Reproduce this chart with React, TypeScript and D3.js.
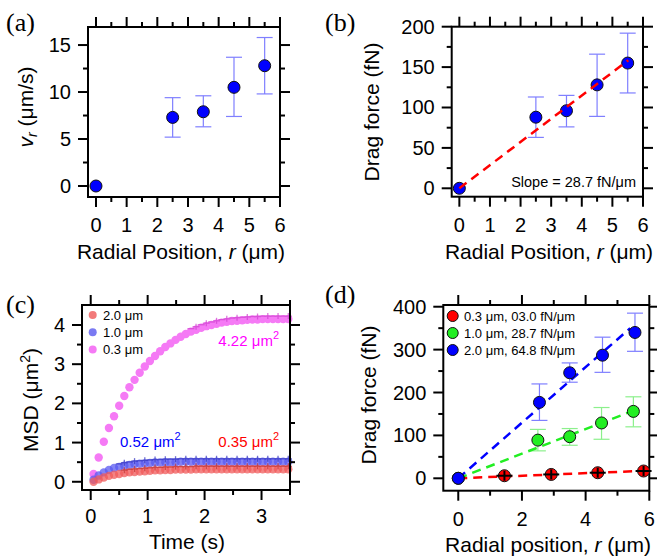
import React from 'react';
import * as d3 from 'd3';

// (a) radial velocity vs radial position
const radialPos = [0, 2.5, 3.5, 4.5, 5.5];
const vrMean = [0, 7.3, 7.9, 10.5, 12.8];
const vrLow = [0, 5.2, 6.3, 7.4, 9.8];
const vrHigh = [0, 9.4, 9.6, 13.7, 15.8];

// (b) drag force, 1.0 um particle
const dragMean = [0, 88, 96, 128, 155];
const dragLow = [0, 63, 76, 89, 118];
const dragHigh = [0, 113, 115, 166, 192];
const slopeB = 28.7;

// (c) MSD vs time
const msdTime = [0.05, 0.14, 0.23, 0.32, 0.41, 0.5, 0.59, 0.68, 0.77, 0.86, 0.95, 1.04, 1.13, 1.22, 1.31, 1.4,
  1.49, 1.58, 1.67, 1.76, 1.85, 1.94, 2.03, 2.12, 2.21, 2.3, 2.39, 2.48, 2.57, 2.66, 2.75, 2.84, 2.93, 3.02,
  3.11, 3.2, 3.29, 3.38, 3.47];
const msdPink = [0.2, 0.62, 1.02, 1.37, 1.67, 1.94, 2.19, 2.41, 2.6, 2.78, 2.94, 3.08, 3.21, 3.33, 3.44, 3.53,
  3.62, 3.7, 3.77, 3.83, 3.88, 3.93, 3.97, 4.0, 4.03, 4.06, 4.08, 4.1, 4.11, 4.12, 4.13, 4.14, 4.14, 4.15,
  4.15, 4.15, 4.15, 4.15, 4.15];
const msdBlue = [0.05, 0.16, 0.24, 0.3, 0.35, 0.38, 0.41, 0.43, 0.45, 0.46, 0.47, 0.48, 0.49, 0.49, 0.5, 0.5,
  0.5, 0.51, 0.51, 0.51, 0.51, 0.51, 0.51, 0.51, 0.51, 0.51, 0.51, 0.51, 0.51, 0.51, 0.51, 0.51, 0.51, 0.51,
  0.51, 0.51, 0.51, 0.51, 0.51];
const msdRed = [0.0, 0.06, 0.11, 0.15, 0.18, 0.2, 0.22, 0.24, 0.25, 0.26, 0.27, 0.28, 0.29, 0.29, 0.3, 0.3,
  0.31, 0.31, 0.31, 0.31, 0.32, 0.32, 0.32, 0.32, 0.32, 0.32, 0.32, 0.32, 0.32, 0.32, 0.32, 0.32, 0.32, 0.32,
  0.32, 0.32, 0.32, 0.32, 0.32];
const msdErrFrom = { pink: 1.7, blue: 0.45, red: 0.55 };

// (d) drag force for three particle sizes
const smallPos = [0, 1.45, 2.92, 4.38, 5.82];
const smallForce = [0, 6, 9, 13, 17];
const greenForce = [0, 89, 97, 129, 156];
const greenLow = [0, 64, 77, 91, 120];
const greenHigh = [0, 114, 116, 165, 190];
const bluePos = [0, 2.55, 3.5, 4.53, 5.55];
const blueForce = [0, 177, 246, 287, 340];
const blueLow = [0, 135, 224, 247, 296];
const blueHigh = [0, 220, 269, 329, 385];
const slopesD = [3.0, 28.7, 64.8];
const legendD = ['0.3 \u03bcm, 03.0 fN/\u03bcm', '1.0 \u03bcm, 28.7 fN/\u03bcm', '2.0 \u03bcm, 64.8 fN/\u03bcm'];

const FONT = "'Liberation Sans', Arial, sans-serif";
const SERIF = "'Liberation Serif', 'DejaVu Serif', serif";
const TICK_FS = 20;
const LABEL_FS = 21;

function Frame({ sx, sy, xMajor, xMinor, yMajor, yMinor, xOff = 35 }: any) {
  const [x0, x1] = sx.range();
  const [y1, y0] = sy.range();
  const M = 10, m = 5;
  return (
    <g stroke="#000" strokeWidth={2}>
      <rect x={x0} y={y0} width={x1 - x0} height={y1 - y0} fill="none" />
      {xMajor.map((v: number) => (
        <g key={'xM' + v}>
          <line x1={sx(v)} x2={sx(v)} y1={y1} y2={y1 + M} />
          <line x1={sx(v)} x2={sx(v)} y1={y0} y2={y0 - M} />
          <text x={sx(v)} y={y1 + xOff} textAnchor="middle" stroke="none" fill="#000" fontSize={TICK_FS} fontFamily={FONT}>{v}</text>
        </g>
      ))}
      {xMinor.map((v: number) => (
        <g key={'xm' + v}>
          <line x1={sx(v)} x2={sx(v)} y1={y1} y2={y1 + m} />
          <line x1={sx(v)} x2={sx(v)} y1={y0} y2={y0 - m} />
        </g>
      ))}
      {yMajor.map((v: number) => (
        <g key={'yM' + v}>
          <line x1={x0} x2={x0 - M} y1={sy(v)} y2={sy(v)} />
          <line x1={x1} x2={x1 + M} y1={sy(v)} y2={sy(v)} />
          <text x={x0 - 17} y={sy(v)} dy="0.35em" textAnchor="end" stroke="none" fill="#000" fontSize={TICK_FS} fontFamily={FONT}>{v}</text>
        </g>
      ))}
      {yMinor.map((v: number) => (
        <g key={'ym' + v}>
          <line x1={x0} x2={x0 - m} y1={sy(v)} y2={sy(v)} />
          <line x1={x1} x2={x1 + m} y1={sy(v)} y2={sy(v)} />
        </g>
      ))}
    </g>
  );
}

function ErrBars({ sx, sy, xs, lo, hi, color }: any) {
  return (
    <g stroke={color} strokeWidth={1.2}>
      {xs.map((x: number, i: number) => lo[i] === hi[i] ? null : (
        <g key={i}>
          <line x1={sx(x)} x2={sx(x)} y1={sy(lo[i])} y2={sy(hi[i])} />
          <line x1={sx(x) - 8} x2={sx(x) + 8} y1={sy(lo[i])} y2={sy(lo[i])} />
          <line x1={sx(x) - 8} x2={sx(x) + 8} y1={sy(hi[i])} y2={sy(hi[i])} />
        </g>
      ))}
    </g>
  );
}

function Dots({ sx, sy, xs, ys, fill, r = 6 }: any) {
  return (
    <g>
      {xs.map((x: number, i: number) => (
        <circle key={i} cx={sx(x)} cy={sy(ys[i])} r={r} fill={fill} stroke="#111" strokeWidth={1} />
      ))}
    </g>
  );
}

function XLabel({ x, y, pre, post }: any) {
  return (
    <text x={x} y={y} textAnchor="middle" fontSize={LABEL_FS} fontFamily={FONT}>
      {pre}<tspan fontStyle="italic">r</tspan>{post}
    </text>
  );
}

function PanelA() {
  const sx = d3.scaleLinear().domain([-0.26, 6]).range([88, 280]);
  const sy = d3.scaleLinear().domain([-1.17, 16.92]).range([197, 27]);
  return (
    <g>
      <Frame sx={sx} sy={sy} xMajor={d3.range(0, 7)} xMinor={d3.range(0.5, 6, 1)} yMajor={[0, 5, 10, 15]} yMinor={[2.5, 7.5, 12.5]} />
      <ErrBars sx={sx} sy={sy} xs={radialPos} lo={vrLow} hi={vrHigh} color="#7f7fff" />
      <Dots sx={sx} sy={sy} xs={radialPos} ys={vrMean} fill="#0000ff" />
      <text transform="translate(26,107) rotate(-90)" textAnchor="middle" dy="0.35em" fontSize={LABEL_FS} fontFamily={FONT}>
        <tspan fontStyle="italic">v</tspan><tspan fontStyle="italic" fontSize={14} dy={4}>r</tspan><tspan dy={-4}> ({'\u03bc'}m/s)</tspan>
      </text>
      <XLabel x={181} y={259} pre="Radial Position, " post={' (\u03bcm)'} />
      <text x={6} y={31} fontSize={26} fontFamily={SERIF}>(a)</text>
    </g>
  );
}

function PanelB() {
  const sx = d3.scaleLinear().domain([-0.25, 6]).range([451.7, 643]);
  const sy = d3.scaleLinear().domain([-10.4, 200]).range([196.7, 26.7]);
  const line = d3.line<number>().x((d) => sx(d)).y((d) => sy(d * slopeB));
  return (
    <g>
      <Frame sx={sx} sy={sy} xMajor={d3.range(0, 7)} xMinor={d3.range(0.5, 6, 1)} yMajor={[0, 50, 100, 150, 200]} yMinor={[25, 75, 125, 175]} />
      <ErrBars sx={sx} sy={sy} xs={radialPos} lo={dragLow} hi={dragHigh} color="#7f7fff" />
      <Dots sx={sx} sy={sy} xs={radialPos} ys={dragMean} fill="#0000ff" />
      <path d={line([0, 5.52]) as string} fill="none" stroke="#ff0000" strokeWidth={2.5} strokeDasharray="9 6" />
      <text x={636} y={187} textAnchor="end" fontSize={14.5} fontFamily={FONT}>Slope = 28.7 fN/{'\u03bc'}m</text>
      <text transform="translate(372,112) rotate(-90)" textAnchor="middle" dy="0.35em" fontSize={LABEL_FS} fontFamily={FONT}>Drag force (fN)</text>
      <XLabel x={549} y={259} pre="Radial Position, " post={' (\u03bcm)'} />
      <text x={325} y={31} fontSize={26} fontFamily={SERIF}>(b)</text>
    </g>
  );
}

function MsdSeries({ sx, sy, ys, fill, mark, from }: any) {
  return (
    <g>
      {msdTime.map((t, i) => (
        <circle key={i} cx={sx(t)} cy={sy(ys[i])} r={4.2} fill={fill} />
      ))}
      <g stroke={mark} strokeWidth={1.3} opacity={0.7}>
        {msdTime.map((t, i) => t < from ? null : (
          <g key={i}>
            <line x1={sx(t) - 3.5} x2={sx(t) + 3.5} y1={sy(ys[i]) - 3} y2={sy(ys[i]) - 3} />
            {i % 2 === 0 ? <line x1={sx(t)} x2={sx(t)} y1={sy(ys[i]) - 6} y2={sy(ys[i])} /> : null}
          </g>
        ))}
      </g>
    </g>
  );
}

function PanelC() {
  const sx = d3.scaleLinear().domain([-0.153, 3.5]).range([82, 290]);
  const sy = d3.scaleLinear().domain([-0.21, 4.51]).range([490, 305]);
  const legend = [
    { label: '2.0 \u03bcm', fill: '#f27a7a' },
    { label: '1.0 \u03bcm', fill: '#7a7af2' },
    { label: '0.3 \u03bcm', fill: '#f57af5' },
  ];
  return (
    <g>
      <MsdSeries sx={sx} sy={sy} ys={msdPink} fill="#f57af5" mark="#d040d0" from={msdErrFrom.pink} />
      <MsdSeries sx={sx} sy={sy} ys={msdBlue} fill="rgba(90,90,240,0.75)" mark="#3030c0" from={msdErrFrom.blue} />
      <MsdSeries sx={sx} sy={sy} ys={msdRed} fill="rgba(240,90,90,0.75)" mark="#c03030" from={msdErrFrom.red} />
      <Frame sx={sx} sy={sy} xMajor={[0, 1, 2, 3]} xMinor={[0.5, 1.5, 2.5, 3.5]} yMajor={[0, 1, 2, 3, 4]} yMinor={[0.5, 1.5, 2.5, 3.5]} xOff={33} />
      {legend.map((l, i) => (
        <g key={i}>
          <circle cx={92.7} cy={315 + i * 17.2} r={4} fill={l.fill} />
          <text x={103} y={315 + i * 17.2} dy="0.35em" fontSize={13} fontFamily={FONT}>{l.label}</text>
        </g>
      ))}
      <text x={279} y={346} textAnchor="end" fontSize={15} fontFamily={FONT} fill="#ff00ff">4.22 {'\u03bc'}m<tspan fontSize={11} dy={-7}>2</tspan></text>
      <text x={120} y={447} fontSize={15} fontFamily={FONT} fill="#0000ff">0.52 {'\u03bc'}m<tspan fontSize={11} dy={-7}>2</tspan></text>
      <text x={279} y={447} textAnchor="end" fontSize={15} fontFamily={FONT} fill="#ff0000">0.35 {'\u03bc'}m<tspan fontSize={11} dy={-7}>2</tspan></text>
      <text transform="translate(31,400) rotate(-90)" textAnchor="middle" dy="0.35em" fontSize={LABEL_FS} fontFamily={FONT}>
        MSD ({'\u03bc'}m<tspan fontSize={14} dy={-8}>2</tspan><tspan dy={8}>)</tspan>
      </text>
      <text x={187} y={549} textAnchor="middle" fontSize={LABEL_FS} fontFamily={FONT}>Time (s)</text>
      <text x={6} y={313} fontSize={26} fontFamily={SERIF}>(c)</text>
    </g>
  );
}

function PanelD() {
  const sx = d3.scaleLinear().domain([-0.47, 6]).range([443.3, 649.3]);
  const sy = d3.scaleLinear().domain([-28.9, 404]).range([490.7, 305]);
  const fit = (k: number, end: number) => d3.line<number>().x((d) => sx(d)).y((d) => sy(d * k))([0, end]) as string;
  const colors = ['#ff0000', '#22ee22', '#0000ff'];
  return (
    <g>
      <Frame sx={sx} sy={sy} xMajor={[0, 2, 4, 6]} xMinor={[1, 3, 5]} yMajor={[0, 100, 200, 300, 400]} yMinor={[50, 150, 250, 350]} />
      <ErrBars sx={sx} sy={sy} xs={radialPos} lo={greenLow} hi={greenHigh} color="#8cf08c" />
      <ErrBars sx={sx} sy={sy} xs={bluePos} lo={blueLow} hi={blueHigh} color="#7f7fff" />
      <path d={fit(slopesD[0], 6)} fill="none" stroke={colors[0]} strokeWidth={2.5} strokeDasharray="9 6" />
      <path d={fit(slopesD[1], 5.5)} fill="none" stroke={colors[1]} strokeWidth={2.5} strokeDasharray="9 6" />
      <path d={fit(slopesD[2], 5.4)} fill="none" stroke={colors[2]} strokeWidth={2.5} strokeDasharray="9 6" />
      <Dots sx={sx} sy={sy} xs={radialPos} ys={greenForce} fill={colors[1]} />
      <Dots sx={sx} sy={sy} xs={bluePos} ys={blueForce} fill={colors[2]} />
      <Dots sx={sx} sy={sy} xs={smallPos.slice(1)} ys={smallForce.slice(1)} fill={colors[0]} />
      <g stroke="#000" strokeWidth={2}>
        {smallPos.slice(1).map((x, i) => (
          <g key={i}>
            <line x1={sx(x) - 8} x2={sx(x) + 8} y1={sy(smallForce[i + 1])} y2={sy(smallForce[i + 1])} />
            <line x1={sx(x)} x2={sx(x)} y1={sy(smallForce[i + 1]) - 5} y2={sy(smallForce[i + 1]) + 5} />
          </g>
        ))}
      </g>
      {legendD.map((l, i) => (
        <g key={i}>
          <circle cx={452.7} cy={316 + i * 17} r={5.5} fill={colors[i]} stroke="#111" strokeWidth={1} />
          <text x={464} y={316 + i * 17} dy="0.35em" fontSize={13} fontFamily={FONT}>{l}</text>
        </g>
      ))}
      <text transform="translate(369,395) rotate(-90)" textAnchor="middle" dy="0.35em" fontSize={LABEL_FS} fontFamily={FONT}>Drag force (fN)</text>
      <XLabel x={548} y={552} pre="Radial position, " post={' (\u03bcm)'} />
      <text x={325} y={303} fontSize={26} fontFamily={SERIF}>(d)</text>
    </g>
  );
}

export default function App() {
  return (
    <svg width={657} height={560} style={{ position: 'absolute', left: 0, top: 0, background: '#fff' }}>
      <rect width={657} height={560} fill="#fff" />
      <PanelA />
      <PanelB />
      <PanelC />
      <PanelD />
    </svg>
  );
}
